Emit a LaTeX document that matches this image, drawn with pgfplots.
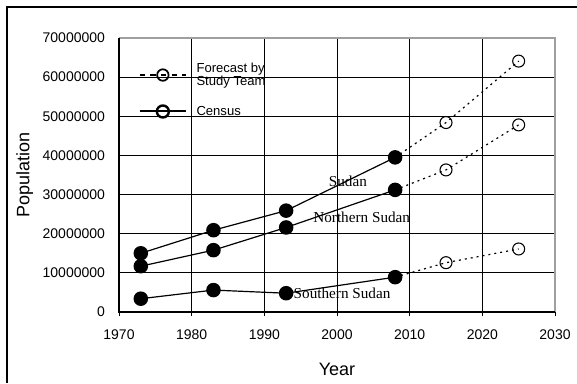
\documentclass[border=0pt]{standalone}
\usepackage{fontspec}
\setmainfont{Liberation Sans}
\newfontfamily\timesf{Liberation Serif}
\usepackage{pgfplots}
\pgfplotsset{compat=1.18}
\begin{document}
\begin{tikzpicture}[x=0.75pt,y=0.75pt]
\useasboundingbox (0,0) rectangle (577,383);
\draw[line width=1.5pt] (7,0) -- (7,376) -- (577,376);
\begin{axis}[
  at={(89.25pt,53.25pt)}, anchor=south west,
  scale only axis, width=327pt, height=205.5pt,
  xmin=1970, xmax=2030, ymin=0, ymax=70000000,
  scaled y ticks=false, scaled x ticks=false,
  xtick={1970,1980,1990,2000,2010,2020,2030},
  xticklabels={1970,1980,1990,2000,2010,2020,2030},
  ytick={0,10000000,20000000,30000000,40000000,50000000,60000000,70000000},
  yticklabels={0,10000000,20000000,30000000,40000000,50000000,60000000,70000000},
  ticklabel style={font=\fontsize{10.5}{12}\selectfont},
  xticklabel style={yshift=-7pt},
  yticklabel style={xshift=-4pt},
  grid=major,
  major grid style={black, line width=0.6pt},
  tick align=outside, major tick length=3pt,
  xtick pos=left, ytick pos=left,
  xtick style={black, line width=0.6pt},
  ytick style={draw=none},
  axis line style={draw=none},
  xlabel={Year}, ylabel={Population},
  label style={font=\fontsize{13.5}{15}\selectfont},
  xlabel style={at={(axis description cs:0.5,-0.21)}, anchor=center},
  ylabel style={at={(axis description cs:-0.216,0.5)}, anchor=center},
  legend style={at={(rel axis cs:0.035,0.93)}, anchor=north west, draw=none, fill=none,
    font=\fontsize{9.8}{9.75}\selectfont, cells={anchor=west, align=left}, row sep=10pt, column sep=5pt},
  legend image code/.code={%
    \draw[#1] (0pt,0pt) -- (35pt,0pt);
    \path[#1] plot coordinates {(17.5pt,0pt)};},
  after end axis/.code={
    \draw[gray!75, line width=0.9pt] (rel axis cs:0,1) -- (rel axis cs:1,1) -- (rel axis cs:1,0);
    \draw[black, line width=0.9pt] (rel axis cs:0,1) -- (rel axis cs:0,0) -- (rel axis cs:1,0);
  },
]
\addlegendimage{black, line width=1.3pt, dash pattern=on 4pt off 4pt, mark=o, mark size=4.3pt, mark options={solid, line width=1.3pt}}
\addlegendentry{Forecast by\\Study Team}
\addlegendimage{black, line width=1.5pt, mark=o, mark size=4.5pt, mark options={solid, line width=1.8pt}}
\addlegendentry{Census}

% Sudan
\addplot[black, line width=0.9pt, mark=*, mark size=5pt] coordinates {(1973,15000000) (1983,20900000) (1993,25900000) (2008,39500000)};
\addplot[black, line width=0.9pt, dash pattern=on 1.5pt off 3pt, mark=o, mark size=4.5pt, mark indices={2,3}, mark options={solid, line width=0.8pt}] coordinates {(2008,39500000) (2015,48400000) (2025,64100000)};
% Northern Sudan
\addplot[black, line width=0.9pt, mark=*, mark size=5pt] coordinates {(1973,11700000) (1983,15800000) (1993,21600000) (2008,31200000)};
\addplot[black, line width=0.9pt, dash pattern=on 1.5pt off 3pt, mark=o, mark size=4.5pt, mark indices={2,3}, mark options={solid, line width=0.8pt}] coordinates {(2008,31200000) (2015,36300000) (2025,47800000)};
% Southern Sudan
\addplot[black, line width=0.9pt, mark=*, mark size=5pt] coordinates {(1973,3400000) (1983,5600000) (1993,4800000) (2008,8900000)};
\addplot[black, line width=0.9pt, dash pattern=on 1.5pt off 3pt, mark=o, mark size=4.5pt, mark indices={2,3}, mark options={solid, line width=0.8pt}] coordinates {(2008,8900000) (2015,12600000) (2025,16100000)};

\node[font=\timesf\fontsize{11.4}{13}\selectfont] at (axis cs:2001.5,33500000) {Sudan};
\node[font=\timesf\fontsize{11.4}{13}\selectfont] at (axis cs:2003.4,24300000) {Northern Sudan};
\node[font=\timesf\fontsize{11.4}{13}\selectfont] at (axis cs:2000.7,4850000) {Southern Sudan};
\end{axis}
\end{tikzpicture}
\end{document}
